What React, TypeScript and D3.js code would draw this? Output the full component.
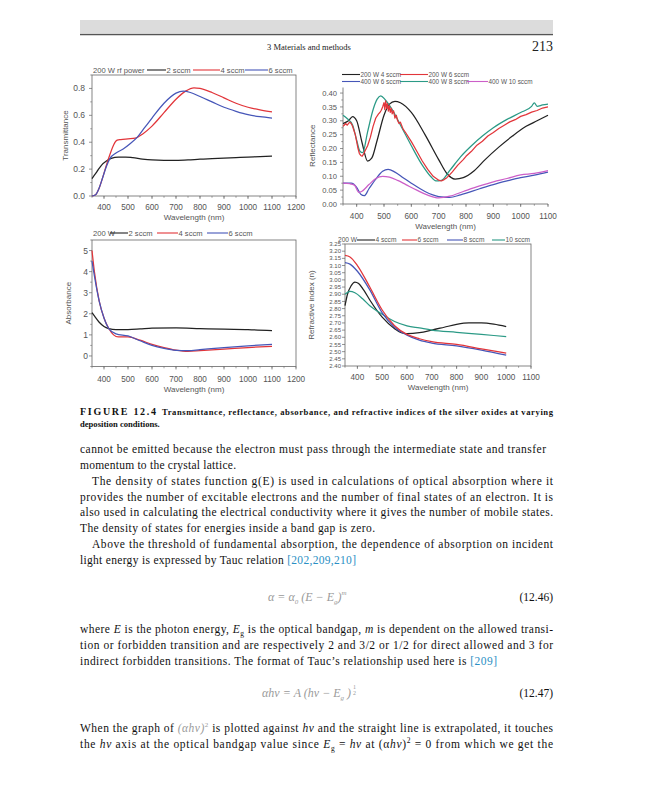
import React from 'react'
import * as d3 from 'd3'

type Pt = [number, number]

// ---- Transmittance, 200 W rf power
const transLabels = ['2 sccm', '4 sccm', '6 sccm']
const trans2: Pt[] = [[350, 0.13], [370, 0.18], [390, 0.23], [410, 0.26], [430, 0.28], [460, 0.29], [490, 0.29], [520, 0.285], [560, 0.275], [600, 0.268], [650, 0.265], [700, 0.265], [750, 0.268], [800, 0.274], [850, 0.278], [900, 0.282], [950, 0.286], [1000, 0.29], [1050, 0.293], [1100, 0.297]]
const trans4: Pt[] = [[350, 0.0], [365, 0.01], [380, 0.06], [395, 0.14], [410, 0.23], [425, 0.31], [440, 0.38], [455, 0.415], [470, 0.42], [500, 0.425], [530, 0.43], [560, 0.46], [600, 0.52], [650, 0.62], [700, 0.72], [740, 0.78], [775, 0.805], [800, 0.8], [850, 0.77], [900, 0.73], [950, 0.69], [1000, 0.66], [1050, 0.64], [1100, 0.625]]
const trans6: Pt[] = [[350, 0.0], [365, 0.01], [380, 0.06], [395, 0.14], [410, 0.22], [425, 0.28], [450, 0.32], [480, 0.35], [510, 0.39], [540, 0.44], [570, 0.51], [600, 0.58], [650, 0.69], [700, 0.765], [730, 0.78], [760, 0.77], [800, 0.74], [850, 0.7], [900, 0.66], [950, 0.63], [1000, 0.605], [1050, 0.59], [1100, 0.58]]

// ---- Reflectance
const reflLabels = ['200 W 4 sccm', '200 W 6 sccm', '400 W 6 sccm', '400 W 8 sccm', '400 W 10 sccm']
const refl200w4: Pt[] = [[350, 0.29], [370, 0.3], [385, 0.315], [400, 0.3], [420, 0.22], [440, 0.155], [455, 0.165], [475, 0.23], [500, 0.32], [520, 0.36], [540, 0.37], [560, 0.365], [600, 0.33], [650, 0.25], [700, 0.16], [730, 0.11], [760, 0.09], [790, 0.095], [830, 0.12], [870, 0.16], [920, 0.205], [970, 0.245], [1020, 0.28], [1060, 0.3], [1100, 0.32]]
const refl200w6: Pt[] = [[350, 0.28], [355, 0.285], [360, 0.29], [365, 0.284], [370, 0.29], [375, 0.295], [380, 0.29], [385, 0.28], [390, 0.265], [395, 0.25], [400, 0.225], [405, 0.2], [410, 0.182], [415, 0.175], [420, 0.172], [425, 0.18], [430, 0.19], [435, 0.2], [440, 0.21], [450, 0.24], [460, 0.28], [470, 0.31], [480, 0.325], [485, 0.33], [490, 0.338], [495, 0.35], [500, 0.365], [503, 0.34], [506, 0.372], [510, 0.345], [513, 0.362], [516, 0.335], [520, 0.355], [523, 0.33], [527, 0.345], [530, 0.325], [535, 0.336], [540, 0.31], [545, 0.32], [550, 0.3], [555, 0.29], [560, 0.295], [570, 0.27], [580, 0.256], [590, 0.24], [600, 0.225], [620, 0.19], [640, 0.155], [660, 0.125], [680, 0.1], [700, 0.086], [710, 0.083], [720, 0.088], [730, 0.095], [740, 0.105], [750, 0.116], [770, 0.14], [790, 0.16], [800, 0.172], [820, 0.19], [840, 0.212], [860, 0.226], [880, 0.245], [900, 0.258], [920, 0.272], [940, 0.284], [960, 0.296], [980, 0.304], [1000, 0.316], [1020, 0.322], [1040, 0.331], [1060, 0.337], [1080, 0.346], [1100, 0.35]]
const refl400w6: Pt[] = [[350, 0.075], [380, 0.075], [400, 0.06], [415, 0.035], [428, 0.03], [445, 0.055], [470, 0.09], [495, 0.118], [515, 0.125], [540, 0.115], [570, 0.095], [600, 0.075], [650, 0.045], [700, 0.027], [740, 0.024], [780, 0.033], [850, 0.055], [900, 0.07], [950, 0.083], [1000, 0.095], [1050, 0.104], [1100, 0.115]]
const refl400w8: Pt[] = [[350, 0.32], [365, 0.308], [385, 0.285], [400, 0.23], [412, 0.19], [422, 0.185], [440, 0.26], [460, 0.34], [475, 0.378], [488, 0.39], [505, 0.375], [530, 0.34], [560, 0.285], [600, 0.21], [640, 0.14], [670, 0.1], [690, 0.083], [710, 0.085], [740, 0.12], [780, 0.17], [820, 0.21], [860, 0.245], [900, 0.275], [950, 0.305], [1000, 0.33], [1040, 0.352], [1050, 0.365], [1060, 0.352], [1080, 0.357], [1100, 0.36]]
const refl400w10: Pt[] = [[350, 0.075], [375, 0.073], [392, 0.068], [408, 0.042], [418, 0.045], [445, 0.07], [470, 0.092], [495, 0.1], [520, 0.097], [550, 0.085], [580, 0.07], [620, 0.05], [660, 0.032], [700, 0.022], [740, 0.028], [790, 0.045], [850, 0.065], [900, 0.08], [950, 0.092], [1000, 0.105], [1050, 0.11], [1100, 0.12]]

// ---- Absorbance, 200 W
const absLabels = ['2 sccm', '4 sccm', '6 sccm']
const abs2: Pt[] = [[350, 2.05], [360, 1.9], [380, 1.6], [400, 1.4], [420, 1.3], [450, 1.25], [500, 1.25], [550, 1.28], [600, 1.32], [700, 1.33], [800, 1.3], [900, 1.27], [1000, 1.25], [1100, 1.2]]
const abs4: Pt[] = [[350, 5.0], [360, 4.0], [380, 2.6], [400, 1.8], [420, 1.3], [440, 1.0], [460, 0.9], [500, 0.9], [550, 0.75], [600, 0.55], [650, 0.4], [700, 0.28], [750, 0.22], [800, 0.25], [900, 0.32], [1000, 0.4], [1100, 0.46]]
const abs6: Pt[] = [[350, 4.5], [360, 3.8], [380, 2.6], [400, 1.8], [420, 1.3], [450, 1.05], [500, 0.95], [550, 0.72], [600, 0.5], [650, 0.36], [700, 0.27], [750, 0.25], [800, 0.3], [900, 0.4], [1000, 0.48], [1100, 0.55]]

// ---- Refractive index, 200 W
const nLabels = ['4 sccm', '6 sccm', '8 sccm', '10 sccm']
const n4: Pt[] = [[350, 2.82], [360, 2.9], [375, 2.96], [390, 2.985], [405, 2.975], [425, 2.93], [450, 2.86], [500, 2.74], [550, 2.66], [580, 2.63], [600, 2.625], [650, 2.632], [700, 2.65], [750, 2.67], [800, 2.69], [850, 2.7], [900, 2.7], [950, 2.692], [1000, 2.675]]
const n6: Pt[] = [[350, 3.17], [370, 3.16], [400, 3.1], [450, 2.95], [500, 2.79], [550, 2.68], [600, 2.62], [650, 2.59], [700, 2.57], [800, 2.55], [900, 2.52], [1000, 2.49]]
const n8: Pt[] = [[350, 3.12], [370, 3.11], [400, 3.06], [450, 2.93], [500, 2.77], [550, 2.67], [600, 2.615], [650, 2.58], [700, 2.56], [800, 2.54], [900, 2.51], [1000, 2.475]]
const n10: Pt[] = [[350, 2.9], [370, 2.92], [390, 2.91], [420, 2.87], [450, 2.82], [500, 2.76], [550, 2.71], [600, 2.68], [650, 2.665], [700, 2.65], [800, 2.635], [900, 2.62], [1000, 2.605]]

const BLACK = '#222'
const RED = '#e2353a'
const BLUE = '#4656b8'
const TEAL = '#2b9a86'
const MAGENTA = '#cc5fc8'
const SANS = 'Liberation Sans, Arial, sans-serif'
const SERIF = 'Liberation Serif, serif'

type Series = { pts: Pt[]; color: string; linear?: boolean }

const Panel = ({ l, r, t, b, xd, yd, xt, xm, yt, ym, yfmt, box, series, xLabel, yLabel, yLabelX, xTickY, xLabelY, yTickX, yTickFont, xTickFont = 8.2 }) => {
  const x = d3.scaleLinear().domain(xd).range([l, r])
  const y = d3.scaleLinear().domain(yd).range([b, t])
  const smooth = d3.line<Pt>().x(d => x(d[0])).y(d => y(d[1])).curve(d3.curveMonotoneX)
  const straight = d3.line<Pt>().x(d => x(d[0])).y(d => y(d[1]))
  const axis = '#666'
  return (
    <g>
      {box ? <rect x={l} y={t} width={r - l} height={b - t} fill="none" stroke={axis} strokeWidth={0.8} /> : (
        <g>
          <line x1={l} x2={l} y1={t} y2={b} stroke={axis} strokeWidth={0.8} />
          <line x1={l} x2={r} y1={b} y2={b} stroke={axis} strokeWidth={0.8} />
        </g>
      )}
      {xm.map(v => <line key={'xm' + v} x1={x(v)} x2={x(v)} y1={b} y2={b + 1.8} stroke={axis} strokeWidth={0.6} />)}
      {xt.map(v => <line key={'xt' + v} x1={x(v)} x2={x(v)} y1={b} y2={b + 3} stroke={axis} strokeWidth={0.7} />)}
      {ym.map(v => <line key={'ym' + v} x1={l} x2={l - 1.8} y1={y(v)} y2={y(v)} stroke={axis} strokeWidth={0.6} />)}
      {yt.map(v => <line key={'yt' + v} x1={l} x2={l - 3} y1={y(v)} y2={y(v)} stroke={axis} strokeWidth={0.7} />)}
      {xt.map(v => (
        <text key={'xl' + v} x={x(v)} y={xTickY} fontSize={xTickFont} fontFamily={SANS} fill="#555" textAnchor="middle">{v}</text>
      ))}
      {yt.map(v => (
        <text key={'yl' + v} x={yTickX} y={y(v)} dy="0.35em" fontSize={yTickFont} fontFamily={SANS} fill="#555" textAnchor="end">{yfmt(v)}</text>
      ))}
      {series.map((s, i) => (
        <path key={i} d={(s.linear ? straight : smooth)(s.pts)} fill="none" stroke={s.color} strokeWidth={1.25} strokeLinejoin="round" />
      ))}
      <text x={(l + r) / 2} y={xLabelY} fontSize={8} fontFamily={SANS} fill="#555" textAnchor="middle">{xLabel}</text>
      <text transform={`translate(${yLabelX},${(t + b) / 2}) rotate(-90)`} fontSize={8} fontFamily={SANS} fill="#555" textAnchor="middle">{yLabel}</text>
    </g>
  )
}

const Legend = ({ y, title, titleX, labels, colors, spans, size }) => (
  <g fontFamily={SANS} fontSize={size} fill="#555">
    {title && <text x={titleX} y={y} dy="0.35em">{title}</text>}
    {labels.map((lab, i) => (
      <g key={lab + i}>
        <line x1={spans[i][0]} x2={spans[i][1]} y1={y} y2={y} stroke={colors[i]} strokeWidth={1.1} />
        <text x={spans[i][1] + 0.5} y={y} dy="0.35em">{lab}</text>
      </g>
    ))}
  </g>
)

const range = (a: number, b: number, s: number) => d3.range(a, b + s / 2, s)

const Body = ({ y, x = 80, w, children, color = '#111' }) => (
  <text x={x} y={y} fontSize={11.5} fontFamily={SERIF} fill={color} textLength={w} lengthAdjust="spacing">{children}</text>
)

export default function App() {
  const f2 = d3.format('.2f')
  const f1 = d3.format('.1f')
  return (
    <svg width={647} height={800} style={{ position: 'absolute', left: 0, top: 0, background: '#fff' }}>
      <rect width={647} height={800} fill="#fff" />
      {/* running header */}
      <rect x={80} y={20} width={473} height={13} fill="#dcdcdc" />
      <line x1={80} x2={553} y1={34.5} y2={34.5} stroke="#555" strokeWidth={1.4} />
      <text x={309} y={50} fontSize={8.5} fontFamily={SERIF} fill="#222" textAnchor="middle">3  Materials and methods</text>
      <text x={553} y={51} fontSize={14} fontFamily={SERIF} fill="#222" textAnchor="end">213</text>

      {/* transmittance */}
      <Panel l={92} r={296} t={75} b={196} xd={[350, 1200]} yd={[0, 0.9]}
        xt={range(400, 1200, 100)} xm={range(350, 1200, 50)} yt={range(0, 0.8, 0.2)} ym={range(0.1, 0.9, 0.2)}
        yfmt={f1} box series={[{ pts: trans2, color: BLACK }, { pts: trans4, color: RED }, { pts: trans6, color: BLUE }]}
        xLabel="Wavelength (nm)" yLabel="Transmittance" yLabelX={68} xTickY={210} xLabelY={219.5} yTickX={85} yTickFont={8.5} />
      <Legend y={70} title="200 W rf power" titleX={93} labels={transLabels} colors={[BLACK, RED, BLUE]}
        spans={[[147, 166], [193, 220], [245, 268]]} size={7.6} />

      {/* reflectance */}
      <Panel l={343} r={548} t={87.5} b={204} xd={[350, 1100]} yd={[0, 0.42]}
        xt={range(400, 1100, 100)} xm={range(350, 1100, 50)} yt={range(0, 0.4, 0.05)} ym={range(0.025, 0.4, 0.05)}
        yfmt={f2} box={false}
        series={[{ pts: refl400w6, color: BLUE }, { pts: refl400w10, color: MAGENTA }, { pts: refl200w4, color: BLACK }, { pts: refl400w8, color: TEAL }, { pts: refl200w6, color: RED, linear: true }]}
        xLabel="Wavelength (nm)" yLabel="Reflectance" yLabelX={315} xTickY={218.5} xLabelY={228.5} yTickX={337} yTickFont={7.6} />
      <Legend y={74.5} title="" titleX={0} labels={reflLabels.slice(0, 2)} colors={[BLACK, RED]}
        spans={[[342, 360], [400, 428]]} size={6.4} />
      <Legend y={81.5} title="" titleX={0} labels={reflLabels.slice(2)} colors={[BLUE, TEAL, MAGENTA]}
        spans={[[342, 360], [400, 428], [467, 488]]} size={6.4} />

      {/* absorbance */}
      <Panel l={92} r={296} t={240} b={366.5} xd={[350, 1200]} yd={[-0.5, 5.5]}
        xt={range(400, 1200, 100)} xm={range(350, 1200, 50)} yt={range(0, 5, 1)} ym={range(-0.5, 5.5, 1)}
        yfmt={d3.format('d')} box series={[{ pts: abs2, color: BLACK }, { pts: abs4, color: RED }, { pts: abs6, color: BLUE }]}
        xLabel="Wavelength (nm)" yLabel="Absorbance" yLabelX={71} xTickY={381.5} xLabelY={391.5} yTickX={88} yTickFont={8.5} />
      <Legend y={233} title="200 W" titleX={93} labels={absLabels} colors={[BLACK, RED, BLUE]}
        spans={[[110, 128], [157, 178], [207, 228]]} size={7.6} />

      {/* refractive index */}
      <Panel l={345} r={531} t={244} b={366} xd={[350, 1100]} yd={[2.4, 3.25]}
        xt={range(400, 1100, 100)} xm={range(350, 1100, 50)} yt={range(2.4, 3.25, 0.05)} ym={[]}
        yfmt={f2} box series={[{ pts: n4, color: BLACK }, { pts: n10, color: TEAL }, { pts: n8, color: BLUE }, { pts: n6, color: RED }]}
        xLabel="Wavelength (nm)" yLabel="Refractive index (n)" yLabelX={314} xTickY={379.5} xLabelY={390} yTickX={341} yTickFont={6} />
      <Legend y={240} title="200 W" titleX={338} labels={nLabels} colors={[BLACK, RED, BLUE, TEAL]}
        spans={[[357, 375], [402, 417], [447, 463], [492, 505]]} size={6.6} />

      {/* caption */}
      <text x={80} y={415} fontSize={10} fontFamily={SERIF} fontWeight="bold" fill="#111" textLength={76} lengthAdjust="spacing">FIGURE 12.4</text>
      <text x={162} y={415} fontSize={8.6} fontFamily={SERIF} fontWeight="bold" fill="#111" textLength={391} lengthAdjust="spacing">Transmittance, reflectance, absorbance, and refractive indices of the silver oxides at varying</text>
      <text x={80} y={427} fontSize={8.6} fontFamily={SERIF} fontWeight="bold" fill="#111">deposition conditions.</text>

      {/* body text */}
      <Body y={453} w={466}>cannot be emitted because the electron must pass through the intermediate state and transfer</Body>
      <Body y={469} w={156}>momentum to the crystal lattice.</Body>
      <Body y={485} x={92} w={461}>The density of states function g(E) is used in calculations of optical absorption where it</Body>
      <Body y={501} w={473}>provides the number of excitable electrons and the number of final states of an electron. It is</Body>
      <Body y={516} w={473}>also used in calculating the electrical conductivity where it gives the number of mobile states.</Body>
      <Body y={532} w={295}>The density of states for energies inside a band gap is zero.</Body>
      <Body y={548} x={92} w={461}>Above the threshold of fundamental absorption, the dependence of absorption on incident</Body>
      <Body y={564} w={276}>light energy is expressed by Tauc relation <tspan fill="#2a8fc4">[202,209,210]</tspan></Body>

      <text x={268} y={601} fontSize={12} fontFamily={SERIF} fontStyle="italic" fill="#9a9a9a">
        α = α<tspan fontSize={7} dy={3}>0</tspan><tspan dy={-3}> (E − E</tspan><tspan fontSize={7} dy={3}>g</tspan><tspan dy={-3}>)</tspan><tspan fontSize={7} dy={-6}>m</tspan>
      </text>
      <text x={553} y={601} fontSize={11.5} fontFamily={SERIF} fill="#111" textAnchor="end">(12.46)</text>

      <Body y={633} w={473}>where <tspan fontStyle="italic">E</tspan> is the photon energy, <tspan fontStyle="italic">E</tspan><tspan fontSize={7.5} dy={3}>g</tspan><tspan dy={-3}> is the optical bandgap, </tspan><tspan fontStyle="italic">m</tspan> is dependent on the allowed transi-</Body>
      <Body y={649} w={473}>tion or forbidden transition and are respectively 2 and 3/2 or 1/2 for direct allowed and 3 for</Body>
      <Body y={665} w={417}>indirect forbidden transitions. The format of Tauc’s relationship used here is <tspan fill="#2a8fc4">[209]</tspan></Body>

      <text x={262} y={697} fontSize={12} fontFamily={SERIF} fontStyle="italic" fill="#9a9a9a">
        αhν = A (hν − E<tspan fontSize={7} dy={3}>g</tspan><tspan dy={-3}> )</tspan>
      </text>
      <text x={353} y={689} fontSize={6} fontFamily={SERIF} fill="#9a9a9a">1</text>
      <text x={353} y={695} fontSize={6} fontFamily={SERIF} fill="#9a9a9a">2</text>
      <text x={553} y={697} fontSize={11.5} fontFamily={SERIF} fill="#111" textAnchor="end">(12.47)</text>

      <Body y={732} w={473}>When the graph of <tspan fill="#9a9a9a" fontStyle="italic">(αhν)</tspan><tspan fill="#9a9a9a" fontSize={7} dy={-5}>2</tspan><tspan dy={5}>  is plotted against </tspan><tspan fontStyle="italic">hν</tspan> and the straight line is extrapolated, it touches</Body>
      <Body y={748} w={473}>the <tspan fontStyle="italic">hν</tspan> axis at the optical bandgap value since <tspan fontStyle="italic">E</tspan><tspan fontSize={7.5} dy={3}>g</tspan><tspan dy={-3}> = </tspan><tspan fontStyle="italic">hν</tspan> at (α<tspan fontStyle="italic">hν</tspan>)<tspan fontSize={7.5} dy={-5}>2</tspan><tspan dy={5}> = 0 from which we get the</tspan></Body>
    </svg>
  )
}
